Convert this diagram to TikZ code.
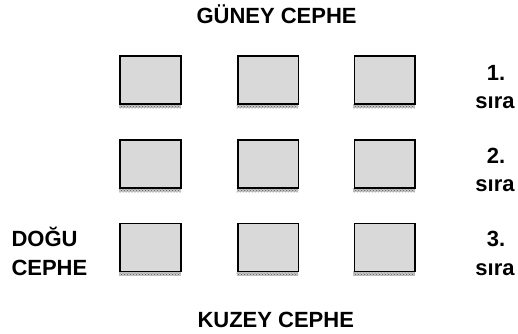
\documentclass[tikz,border=0pt]{standalone}
\usepackage{fontspec}
\setmainfont{Liberation Sans}
\usetikzlibrary{patterns}
\definecolor{boxgray}{RGB}{217,217,217}
\begin{document}
\begin{tikzpicture}[x=1pt,y=-1pt,
  lbl/.style={font=\fontsize{22}{26}\selectfont\bfseries, inner sep=0pt, outer sep=0pt},
  facade/.style={draw=black, line width=1.7pt, fill=boxgray, inner sep=0pt,
                 minimum width=60.6pt, minimum height=48pt, anchor=north west},
  ground/.style={pattern=crosshatch dots, pattern color=black!65}]
\useasboundingbox (0,0) rectangle (518,333);
\foreach \c/\x in {1/119.2, 2/236.9, 3/353.6} {
  \foreach \r/\y in {1/55.2, 2/138.9, 3/222.6} {
    \fill[gray!45] (\x-0.2,\y+48.8) rectangle ++(61.7,4.3);
    \fill[ground] (\x-0.2,\y+48.8) rectangle ++(61.7,4.3);
    \node[facade] (b\c\r) at (\x,\y) {};
  }
}
\node[lbl, anchor=base west] (south) at (196.5,23.3) {GÜNEY CEPHE};
\node[lbl, anchor=base west] (north) at (197.5,327) {KUZEY CEPHE};
\node[lbl, anchor=base west] (east1) at (11.5,246.7) {DOĞU};
\node[lbl, anchor=base west] (east2) at (11.5,275) {CEPHE};
\foreach \r/\y in {1/80, 2/163.3, 3/246.7} {
  \node[lbl, anchor=base] (n\r) at (496,\y) {\r.};
  \node[lbl, anchor=base] (s\r) at (495,\y+28.3) {sıra};
}
\end{tikzpicture}
\end{document}
